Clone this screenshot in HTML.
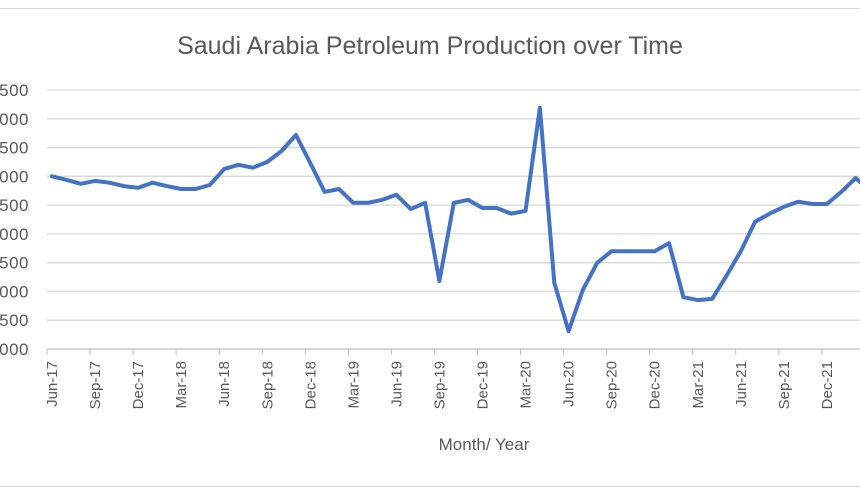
<!DOCTYPE html>
<html><head><meta charset="utf-8"><style>
html,body{margin:0;padding:0;background:#fff;overflow:hidden}
svg{display:block;font-family:"Liberation Sans",sans-serif}
</style></head><body>
<svg id="chart" width="860" height="490">
<line x1="0" y1="8.5" x2="860" y2="8.5" stroke="#d9d9d9"/>
<line x1="0" y1="486.5" x2="860" y2="486.5" stroke="#d9d9d9"/>
<text x="430" y="54" text-anchor="middle" font-size="25" fill="#595959">Saudi Arabia Petroleum Production over Time</text>
<text x="484" y="450" text-anchor="middle" font-size="17" fill="#595959">Month/ Year</text>
<g id="grid"></g><g id="yt"></g><g id="xt"></g><g id="series"></g>
</svg>
<script>
const months = ["Jun-17","Jul-17","Aug-17","Sep-17","Oct-17","Nov-17","Dec-17","Jan-18","Feb-18","Mar-18","Apr-18","May-18","Jun-18","Jul-18","Aug-18","Sep-18","Oct-18","Nov-18","Dec-18","Jan-19","Feb-19","Mar-19","Apr-19","May-19","Jun-19","Jul-19","Aug-19","Sep-19","Oct-19","Nov-19","Dec-19","Jan-20","Feb-20","Mar-20","Apr-20","May-20","Jun-20","Jul-20","Aug-20","Sep-20","Oct-20","Nov-20","Dec-20","Jan-21","Feb-21","Mar-21","Apr-21","May-21","Jun-21","Jul-21","Aug-21","Sep-21","Oct-21","Nov-21","Dec-21","Jan-22","Feb-22","Mar-22"];
const production = [10000,9940,9870,9920,9890,9830,9800,9890,9830,9780,9780,9850,10130,10200,10150,10250,10440,10720,10230,9730,9780,9540,9540,9590,9680,9430,9540,8180,9540,9590,9450,9450,9350,9400,11190,8150,7310,8030,8500,8700,8700,8700,8700,8840,7900,7850,7870,8270,8700,9210,9350,9470,9560,9520,9520,9730,9970,9750];
const yTicks = [7000,7500,8000,8500,9000,9500,10000,10500,11000,11500];
const NS="http://www.w3.org/2000/svg";
const yMin=7000,yMax=11500,yBot=349,yTop=90;
function ys(v){return yBot-(v-yMin)/(yMax-yMin)*(yBot-yTop);}
function xs(i){return 52+i*14.35;}
function mk(t,a,p){const e=document.createElementNS(NS,t);for(const k in a)e.setAttribute(k,a[k]);p.appendChild(e);return e;}
const grid=document.getElementById('grid'),yt=document.getElementById('yt'),xt=document.getElementById('xt'),series=document.getElementById('series');
yTicks.forEach(v=>{
  const l=mk('line',{x1:47,x2:860,y1:ys(v),y2:ys(v),stroke:v===yMin?'#bfbfbf':'#d9d9d9','stroke-width':1.3},grid);
  
  
  const t=mk('text',{x:29,y:ys(v)+6,'text-anchor':'end','font-size':17,fill:'#595959','letter-spacing':'0.5'},yt);
  t.textContent=v;
  
  
});
months.forEach((m,i)=>{
  if(i%3!==0)return;
  const x=xs(i);
  const tk=mk('line',{x1:x-5,x2:x-5,y1:349,y2:355,stroke:'#bfbfbf'},xt);
  
  
  const t=mk('text',{x:0,y:0,'text-anchor':'end','font-size':15,fill:'#595959',transform:`translate(${x+5},361) rotate(-90)`},xt);
  t.textContent=m;
  
  
});
const pts=production.map((v,i)=>xs(i).toFixed(1)+','+ys(v).toFixed(1)).join(' ');
const pl=mk('polyline',{points:pts,fill:'none',stroke:'#4472c4','stroke-width':4,'stroke-linejoin':'round','stroke-linecap':'round'},series);


</script>
</body></html>
